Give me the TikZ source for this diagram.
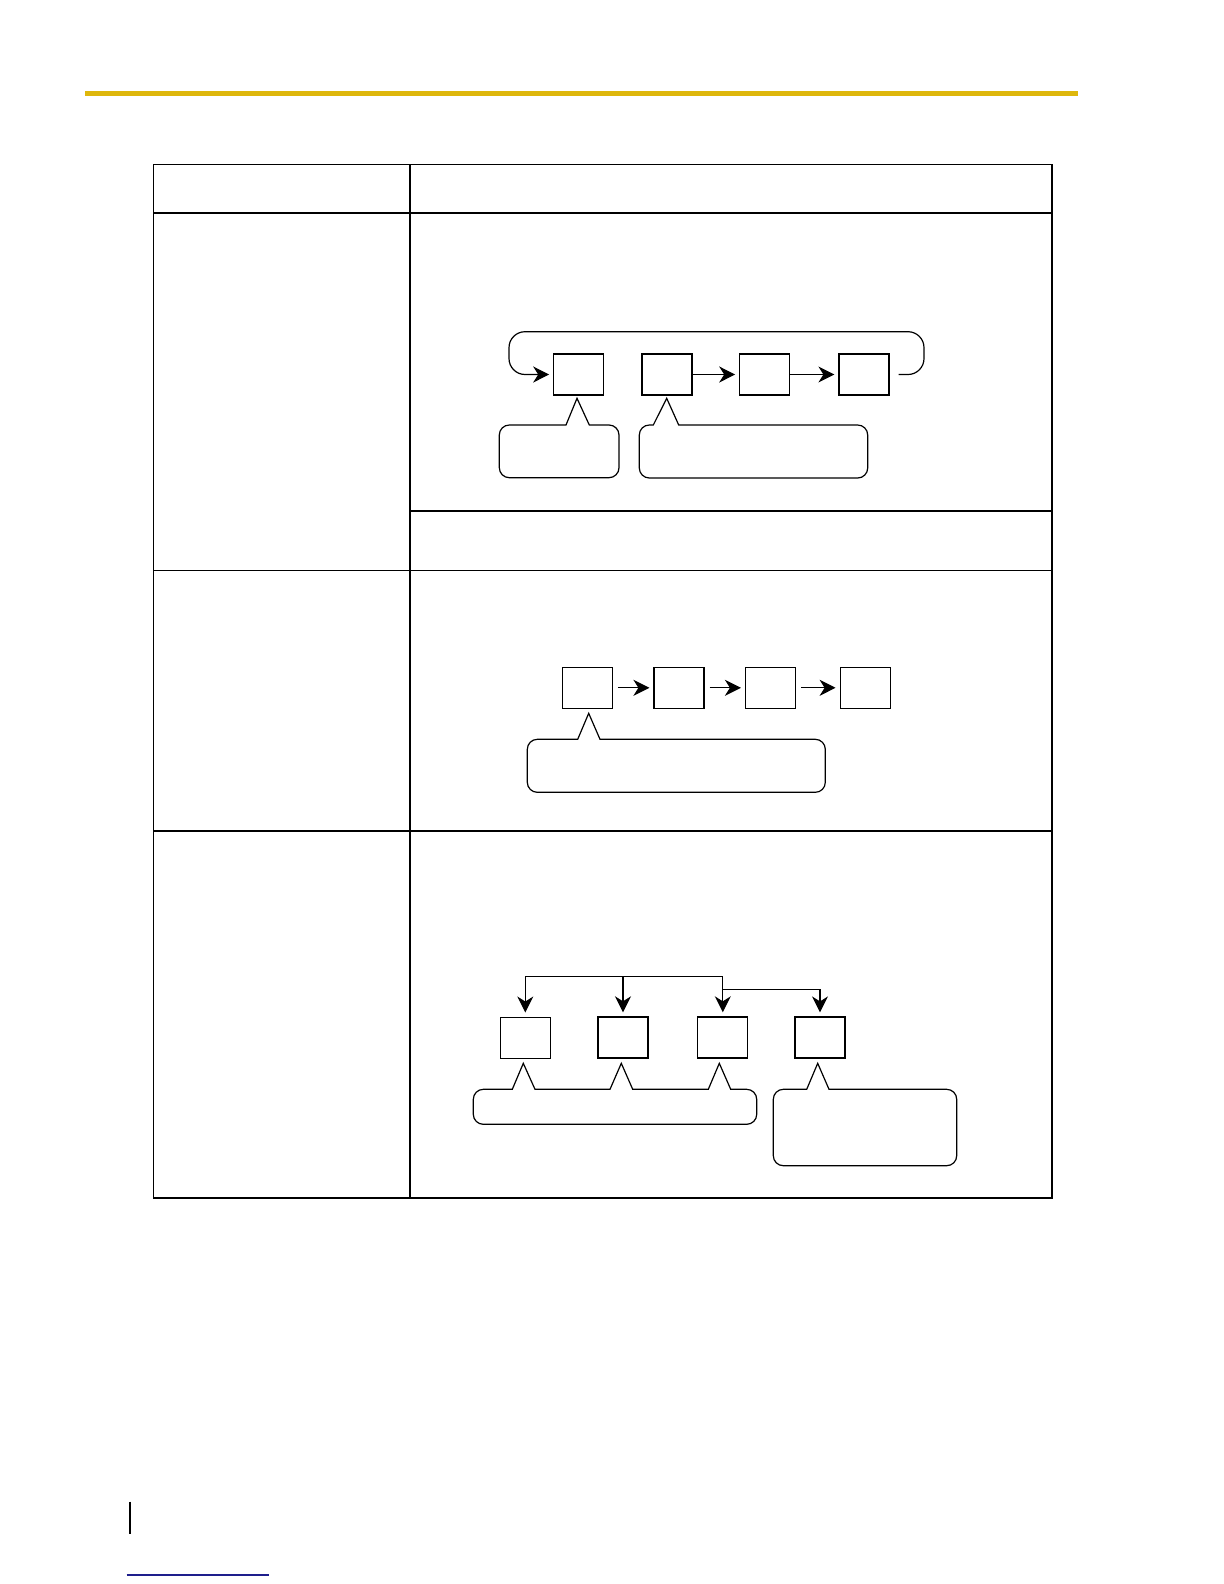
\documentclass[tikz,border=0pt]{standalone}
\usepackage{tikz}
\usetikzlibrary{arrows.meta,positioning}
\definecolor{rulegold}{RGB}{222,183,12}
\definecolor{linkblue}{RGB}{30,30,140}

\begin{document}
\begin{tikzpicture}[
  x=0.5pt, y=-0.5pt,
  grid/.style={line width=0.75pt},
  box/.style={rectangle, draw, line width=0.6pt, minimum width=25pt, minimum height=20.5pt, inner sep=0pt},
  link/.style={-{Stealth[length=8pt, width=8pt, inset=2.5pt]}, line width=0.6pt, shorten >=2pt},
  callout/.style={draw, line width=0.6pt},
]
  \useasboundingbox (0,0) rectangle (1224,1584);

  % header rule
  \draw[rulegold, line width=2.5pt] (85,93.5) -- (1078,93.5);

  % table frame
  \draw[grid] (153.5,164.6) rectangle (1052,1197.9);
  \draw[grid] (410,164.6) -- (410,1197.9);
  \foreach \y in {213.1,570.6,831.2}
    \draw[grid] (153.5,\y) -- (1052,\y);
  \draw[grid] (410,511) -- (1052,511);

  % ring
  \node[box] (a1) at (578.8,374.5) {};
  \node[box] (a2) at (667,374.5) {};
  \node[box] (a3) at (764.8,374.5) {};
  \node[box] (a4) at (864,374.5) {};
  \coordinate (ringR) at (924,331.7);
  \coordinate (ringL) at (509,374.5);
  \draw[link] (a2) -- (a3);
  \draw[link] (a3) -- (a4);
  \draw[link, rounded corners=8pt, shorten <=4.5pt] (a4.east) -| (ringR) -| (ringL) -- (a1);
  \draw[callout] (577,398.3) -- (589.3,425) [rounded corners=5pt] -- (619,425) -- (619,477.7)
    -- (499.3,477.7) -- (499.3,425) [sharp corners] -- (566,425) -- cycle;
  \draw[callout] (666.7,398.3) -- (678.7,425) [rounded corners=5pt] -- (867.7,425) -- (867.7,478)
    -- (639.3,478) -- (639.3,425) [sharp corners] -- (653.3,425) -- cycle;

  % chain
  \node[box] (b1) at (587.3,687.8) {};
  \node[box] (b2) at (679,687.8) {};
  \node[box] (b3) at (770.5,687.8) {};
  \node[box] (b4) at (865.2,687.8) {};
  \foreach \i/\j in {b1/b2,b2/b3,b3/b4}
    \draw[link, shorten <=2.5pt] (\i) -- (\j);
  \draw[callout] (588.7,713.3) -- (600,739.3) [rounded corners=5pt] -- (825.3,739.3) -- (825.3,792.3)
    -- (527.3,792.3) -- (527.3,739.3) [sharp corners] -- (577.7,739.3) -- cycle;

  % fan out
  \node[box] (c1) at (525.3,1037.6) {};
  \node[box] (c2) at (623,1037.4) {};
  \node[box] (c3) at (722.8,1037.4) {};
  \node[box] (c4) at (820,1037.5) {};
  \coordinate (bus) at (623,976.7);
  \coordinate (fork) at (722.7,989.3);
  \draw[link] (bus) -| (c1);
  \draw[link] (bus) -- (c2);
  \draw[link] (bus) -| (c3);
  \draw[link] (fork) -| (c4);
  \draw[callout] (523.3,1063.3) -- (535,1089.3) -- (610,1089.3) -- (621.3,1063.3) -- (632.7,1089.3)
    -- (708.3,1089.3) -- (719.3,1063.3) -- (730.7,1089.3) [rounded corners=5pt] -- (756.7,1089.3)
    -- (756.7,1124.3) -- (473.3,1124.3) -- (473.3,1089.3) [sharp corners] -- (512.3,1089.3) -- cycle;
  \draw[callout] (817.7,1063.3) -- (829,1089.3) [rounded corners=5pt] -- (956.7,1089.3) -- (956.7,1165.7)
    -- (773.3,1165.7) -- (773.3,1089.3) [sharp corners] -- (806.7,1089.3) -- cycle;

  % footer marks
  \draw[line width=1pt] (130.3,1501.7) -- (130.3,1534);
  \draw[linkblue, line width=0.7pt] (126.7,1575) -- (269,1575);
\end{tikzpicture}
\end{document}
